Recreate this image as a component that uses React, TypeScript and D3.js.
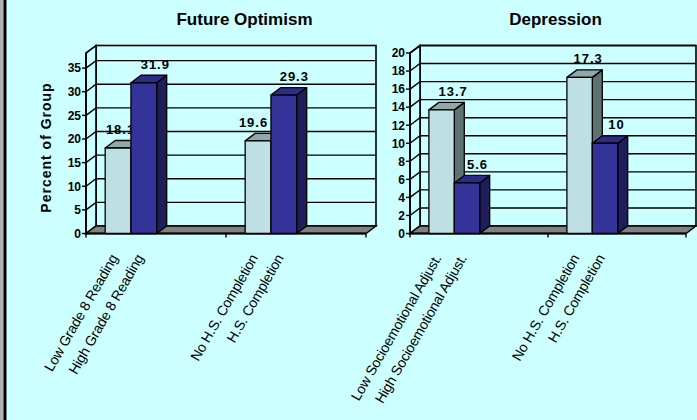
import React from "react";
import * as d3 from "d3";

// ---- data ----
const optimismTitle = "Future Optimism";
const optimismBarLabels = [
  ["Low Grade 8 Reading", "High Grade 8 Reading"],
  ["No H.S. Completion", "H.S. Completion"],
];
const optimismValues = [
  [18.1, 31.9],
  [19.6, 29.3],
];
const optimismTicks = [0, 5, 10, 15, 20, 25, 30, 35];

const depressionTitle = "Depression";
const depressionBarLabels = [
  ["Low Socioemotional Adjust.", "High Socioemotional Adjust."],
  ["No H.S. Completion", "H.S. Completion"],
];
const depressionValues = [
  [13.7, 5.6],
  [17.3, 10],
];
const depressionTicks = [0, 2, 4, 6, 8, 10, 12, 14, 16, 18, 20];

const yAxisTitle = "Percent of Group";

// ---- styling ----
const W = 697;
const H = 420;
const BG = "#CCFFFF";
const FONT = "'Liberation Sans', Arial, sans-serif";
const DEPTH = { dx: 10, dy: -7.5 };
const SERIES = [
  { front: "#BEE0E2", top: "#8FA9AA", side: "#5D7272" },
  { front: "#333399", top: "#2C2C86", side: "#1E1E58" },
];

type PanelProps = {
  title: string;
  titleX: number;
  labels: string[][];
  values: number[][];
  ticks: number[];
  domainMax: number;
  x0: number;
  x1: number;
  labelShift: number[][];
};

function Panel({ title, titleX, labels, values, ticks, domainMax, x0, x1, labelShift }: PanelProps) {
  const y0 = 233.5;
  const yTop = 53;
  const { dx, dy } = DEPTH;
  const y = d3.scaleLinear().domain([0, domainMax]).range([y0, yTop]);
  const groups = d3.range(values.length);
  const xCat = d3.scaleBand<number>().domain(groups).range([x0, x1]).paddingInner(0).paddingOuter(0);
  const bw = xCat.bandwidth();
  const barOffset = bw * 0.137;
  const barW = bw * 0.184;
  const barX = (g: number, s: number) => (xCat(g) as number) + barOffset + s * barW;
  const wallTop = y(domainMax) + dy;
  const pts = (arr: number[][]) => arr.map((p) => p.join(",")).join(" ");

  const bars: { g: number; s: number; v: number; label: string }[] = [];
  groups.forEach((g) =>
    values[g].forEach((v, s) => bars.push({ g, s, v, label: labels[g][s] }))
  );

  return (
    <g>
      {/* back wall */}
      <rect x={x0 + dx} y={wallTop} width={x1 - x0} height={y0 + dy - wallTop} fill={BG} stroke="#000" strokeWidth={1.6} />
      {/* side wall */}
      <polygon
        points={pts([[x0, y0], [x0 + dx, y0 + dy], [x0 + dx, wallTop], [x0, y(domainMax)]])}
        fill={BG}
        stroke="#000"
        strokeWidth={1.6}
      />
      {/* gridlines */}
      {ticks.filter((t) => t > 0).map((t) => (
        <polyline
          key={t}
          points={pts([[x0, y(t)], [x0 + dx, y(t) + dy], [x1 + dx, y(t) + dy]])}
          fill="none"
          stroke="#000"
          strokeWidth={1.4}
        />
      ))}
      {/* floor */}
      <polygon
        points={pts([[x0, y0], [x1, y0], [x1 + dx, y0 + dy], [x0 + dx, y0 + dy]])}
        fill="#808080"
        stroke="#000"
        strokeWidth={1.4}
      />
      <line x1={x0} x2={x1} y1={y0} y2={y0} stroke="#000" strokeWidth={2} />
      {/* category ticks */}
      {[x0, ...groups.map((g) => (xCat(g) as number) + bw)].map((cx, i) => (
        <line key={i} x1={cx} x2={cx} y1={y0} y2={y0 + 4} stroke="#000" strokeWidth={1.4} />
      ))}
      {/* value axis */}
      <line x1={x0} x2={x0} y1={y0 + 1} y2={y(domainMax)} stroke="#000" strokeWidth={1.8} />
      {ticks.map((t) => (
        <g key={t}>
          <line x1={x0 - 4} x2={x0} y1={y(t)} y2={y(t)} stroke="#000" strokeWidth={1.4} />
          <text x={x0 - 5} y={y(t)} dy="0.36em" textAnchor="end" fontFamily={FONT} fontWeight="bold" fontSize={12} fill="#000">
            {t}
          </text>
        </g>
      ))}
      {/* value labels */}
      {bars.map((b, i) => {
        const cx = barX(b.g, b.s) + barW / 2 + labelShift[b.g][b.s];
        return (
          <text key={"v" + i} x={cx + 0.5} y={y(b.v) + dy - 6.5} textAnchor="middle" fontFamily={FONT} fontWeight="bold" fontSize={13} letterSpacing={1} fill="#000">
            {String(b.v)}
          </text>
        );
      })}
      {/* 3D columns */}
      {bars.map((b, i) => {
        const bx = barX(b.g, b.s);
        const top = y(b.v);
        const c = SERIES[b.s];
        return (
          <g key={"b" + i} stroke="#000" strokeWidth={1.3} strokeLinejoin="round">
            <polygon points={pts([[bx + barW, y0], [bx + barW + dx, y0 + dy], [bx + barW + dx, top + dy], [bx + barW, top]])} fill={c.side} />
            <polygon points={pts([[bx, top], [bx + dx, top + dy], [bx + barW + dx, top + dy], [bx + barW, top]])} fill={c.top} />
            <rect x={bx} y={top} width={barW} height={y0 - top} fill={c.front} />
          </g>
        );
      })}
      {/* category labels */}
      {bars.map((b, i) => {
        const cx = barX(b.g, b.s) + barW / 2;
        return (
          <text
            key={"l" + i}
            transform={`translate(${cx - 4},${y0 + 22}) rotate(-60)`}
            dy="0.35em"
            textAnchor="end"
            fontFamily={FONT}
            fontSize={14}
            letterSpacing={-0.2}
            fill="#000"
          >
            {b.label}
          </text>
        );
      })}
      {/* title */}
      <text x={titleX} y={25} textAnchor="middle" fontFamily={FONT} fontWeight="bold" fontSize={17} fill="#000">
        {title}
      </text>
    </g>
  );
}

export default function App() {
  return (
    <svg width={W} height={H} style={{ position: "fixed", left: 0, top: 0, display: "block" }}>
      <rect x={0} y={0} width={W} height={H} fill={BG} />
      <rect x={0} y={0} width={3.5} height={H} fill="#B0B0B0" />
      <rect x={3.5} y={0} width={3} height={H} fill="#000" />
      <Panel
        title={optimismTitle}
        titleX={244.5}
        labels={optimismBarLabels}
        values={optimismValues}
        ticks={optimismTicks}
        domainMax={38.2}
        x0={86}
        x1={366}
        labelShift={[[2, 11], [-5, 10]]}
      />
      <Panel
        title={depressionTitle}
        titleX={555.5}
        labels={depressionBarLabels}
        values={depressionValues}
        ticks={depressionTicks}
        domainMax={20}
        x0={410}
        x1={686}
        labelShift={[[11, 10], [8, 11]]}
      />
      <text
        transform="translate(51,147.5) rotate(-90)"
        textAnchor="middle"
        fontFamily={FONT}
        fontWeight="bold"
        fontSize={14}
        letterSpacing={1}
        fill="#000"
      >
        {yAxisTitle}
      </text>
    </svg>
  );
}
